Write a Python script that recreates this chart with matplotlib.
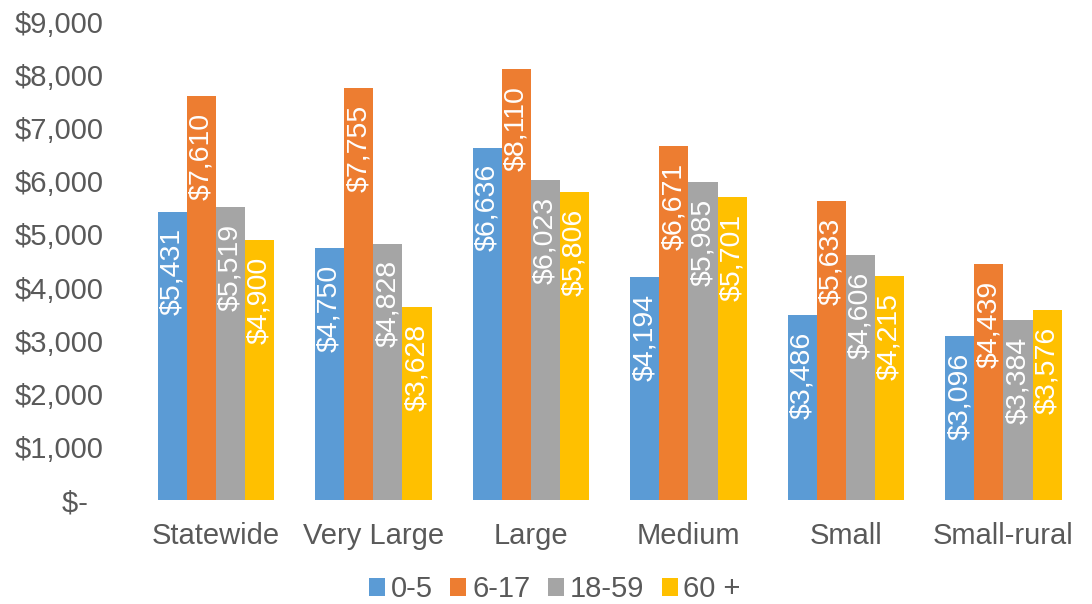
import matplotlib.pyplot as plt
import numpy as np

plt.rcParams['font.family'] = ['Liberation Sans', 'DejaVu Sans']

categories = ['Statewide', 'Very Large', 'Large', 'Medium', 'Small', 'Small-rural']
series = ['0-5', '6-17', '18-59', '60 +']
v_0_5 = [5431, 4750, 6636, 4194, 3486, 3096]
v_6_17 = [7610, 7755, 8110, 6671, 5633, 4439]
v_18_59 = [5519, 4828, 6023, 5985, 4606, 3384]
v_60 = [4900, 3628, 5806, 5701, 4215, 3576]
values = [v_0_5, v_6_17, v_18_59, v_60]
colors = ['#5B9BD5', '#ED7D31', '#A5A5A5', '#FFC000']

fig = plt.figure(figsize=(10.92, 6.04), dpi=100)
ax = fig.add_axes([0.1255, 0.172, 0.8655, 0.7916])

x = np.arange(len(categories))
w = 0.185
for i, (name, vals, c) in enumerate(zip(series, values, colors)):
    pos = x + (i - 1.5) * w
    bars = ax.bar(pos, vals, w, color=c, label=name)
    for b, v in zip(bars, vals):
        ax.annotate(f'${v:,}', (b.get_x() + b.get_width() / 2, v),
                    xytext=(0, -12), textcoords='offset points',
                    rotation=90, ha='center', va='top',
                    color='white', fontsize=20.5)

ax.set_xlim(-0.5, len(categories) - 0.5)
ax.set_ylim(0, 9000)
ax.set_yticks(range(0, 9001, 1000))
ax.set_yticklabels(['$-  '] + [f'${t:,}' for t in range(1000, 9001, 1000)])
ax.set_xticks(x)
ax.set_xticklabels(categories)
ax.tick_params(axis='both', length=0, labelsize=21, colors='#595959')
ax.tick_params(axis='x', pad=16)
ax.tick_params(axis='y', pad=24)
for s in ax.spines.values():
    s.set_visible(False)

ax.legend(loc='lower center', bbox_to_anchor=(0.442, -0.252), ncol=4, frameon=False,
          fontsize=21, labelcolor='#595959', handlelength=0.55, handleheight=0.55,
          handletextpad=0.2, columnspacing=0.6, borderpad=0.1)

fig.savefig('out.png', dpi=100)
